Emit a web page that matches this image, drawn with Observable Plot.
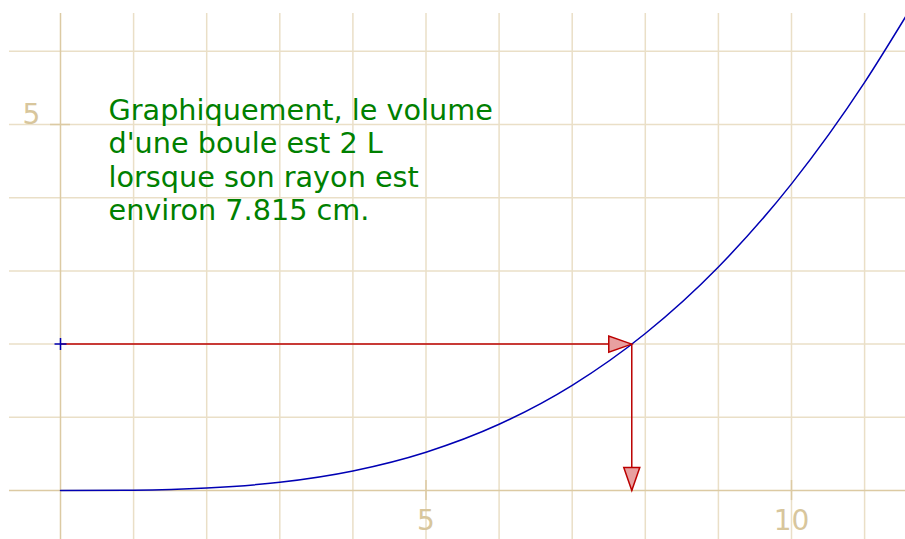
<!DOCTYPE html>
<html>
<head>
<meta charset="utf-8">
<script src="https://cdn.jsdelivr.net/npm/d3@7"></script>
<script src="https://cdn.jsdelivr.net/npm/@observablehq/plot@0.6"></script>
<style>
  html, body { margin: 0; padding: 0; background: #fff; }
  #chart svg { display: block; }
</style>
</head>
<body>
<div id="chart"></div>
<script>
// Curve: volume of a ball (L) versus radius (cm)
const radius = [0, 1, 2, 3, 4, 5, 6, 7, 8, 9, 10, 11, 11.56];
const volume = [0, 0.004, 0.034, 0.113, 0.268, 0.524, 0.905, 1.437, 2.145, 3.054, 4.189, 5.575, 6.47];

// Reading point
const readRadius = [7.815];
const readVolume = [2];

// Grid and ticks
const xGrid = [0, 1, 2, 3, 4, 5, 6, 7, 8, 9, 10, 11];
const yGrid = [0, 1, 2, 3, 4, 5, 6];
const xTickLabels = [5, 10];
const yTickLabels = [5];

const noteLines = [
  "Graphiquement, le volume",
  "d'une boule est 2 L",
  "lorsque son rayon est",
  "environ 7.815 cm."
];

const curveData = radius.map((r, i) => ({r, v: volume[i]}));
const pt = {r: readRadius[0], v: readVolume[0]};

const xDomain = [-0.8208, 11.5595];
const yDomain = [-0.669, 6.694];
const gridX1 = -0.698, gridX2 = 11.56;
const gridYTop = 6.516, gridYBottom = -0.669;

const gridColor = "#eadfc7";
const axisColor = "#dccaa3";
const labelColor = "#d8c69c";

const arrowHead = {
  draw(ctx) {
    ctx.moveTo(0, 0);
    ctx.lineTo(-23, -8);
    ctx.lineTo(-23, 8);
    ctx.closePath();
  }
};
const plusSym = {
  draw(ctx) {
    ctx.moveTo(-6, 0); ctx.lineTo(6, 0);
    ctx.moveTo(0, -6); ctx.lineTo(0, 6);
  }
};

const chart = Plot.plot({
  width: 905,
  height: 539,
  margin: 0,
  style: {fontFamily: "DejaVu Sans", background: "#fff"},
  x: {domain: xDomain, axis: null},
  y: {domain: yDomain, axis: null},
  marks: [
    // grid
    Plot.ruleX(xGrid.filter(d => d !== 0), {y1: gridYTop, y2: gridYBottom, stroke: gridColor, strokeWidth: 1.5}),
    Plot.ruleY(yGrid.filter(d => d !== 0), {x1: gridX1, x2: gridX2, stroke: gridColor, strokeWidth: 1.5}),
    // axes
    Plot.ruleX([0], {y1: gridYTop, y2: gridYBottom, stroke: axisColor, strokeWidth: 1.5}),
    Plot.ruleY([0], {x1: gridX1, x2: gridX2, stroke: axisColor, strokeWidth: 1.5}),
    // tick marks
    Plot.ruleX(xTickLabels, {y1: -0.137, y2: 0.137, stroke: axisColor, strokeWidth: 1.5}),
    Plot.ruleY(yTickLabels, {x1: -0.137, x2: 0.137, stroke: axisColor, strokeWidth: 1.5}),
    // tick labels
    Plot.text(xTickLabels, {x: d => d, y: 0, dy: 31, text: d => String(d), fill: labelColor, fontSize: 28, textAnchor: "middle"}),
    Plot.text(yTickLabels, {x: 0, y: d => d, dx: -29, dy: -9, text: d => String(d), fill: labelColor, fontSize: 28, textAnchor: "middle"}),
    // curve
    Plot.line(curveData, {x: "r", y: "v", stroke: "#0000b4", strokeWidth: 1.5, curve: "monotone-x"}),
    // arrows
    Plot.link([pt], {x1: 0, y1: d => d.v, x2: d => d.r, y2: d => d.v, stroke: "#bb0000", strokeWidth: 1.5}),
    Plot.link([pt], {x1: d => d.r, y1: d => d.v, x2: d => d.r, y2: 0, stroke: "#bb0000", strokeWidth: 1.5}),
    Plot.dot([pt], {x: "r", y: "v", symbol: arrowHead, r: 4, fill: "#e8a0a0", stroke: "#bb0000", strokeWidth: 1.5}),
    Plot.dot([pt], {x: "r", y: 0, symbol: arrowHead, r: 4, rotate: 90, fill: "#e8a0a0", stroke: "#bb0000", strokeWidth: 1.5}),
    // start marker
    Plot.dot([pt], {x: 0, y: "v", symbol: plusSym, r: 4, fill: "none", stroke: "#0000b4", strokeWidth: 1.5}),
    // note
    Plot.text([noteLines.join("\n")], {x: 0.657, y: 5.383, text: d => d, fill: "#008000", fontSize: 28.7, textAnchor: "start", lineAnchor: "top", lineHeight: 1.16})
  ]
});
document.getElementById("chart").appendChild(chart);
</script>
</body>
</html>
